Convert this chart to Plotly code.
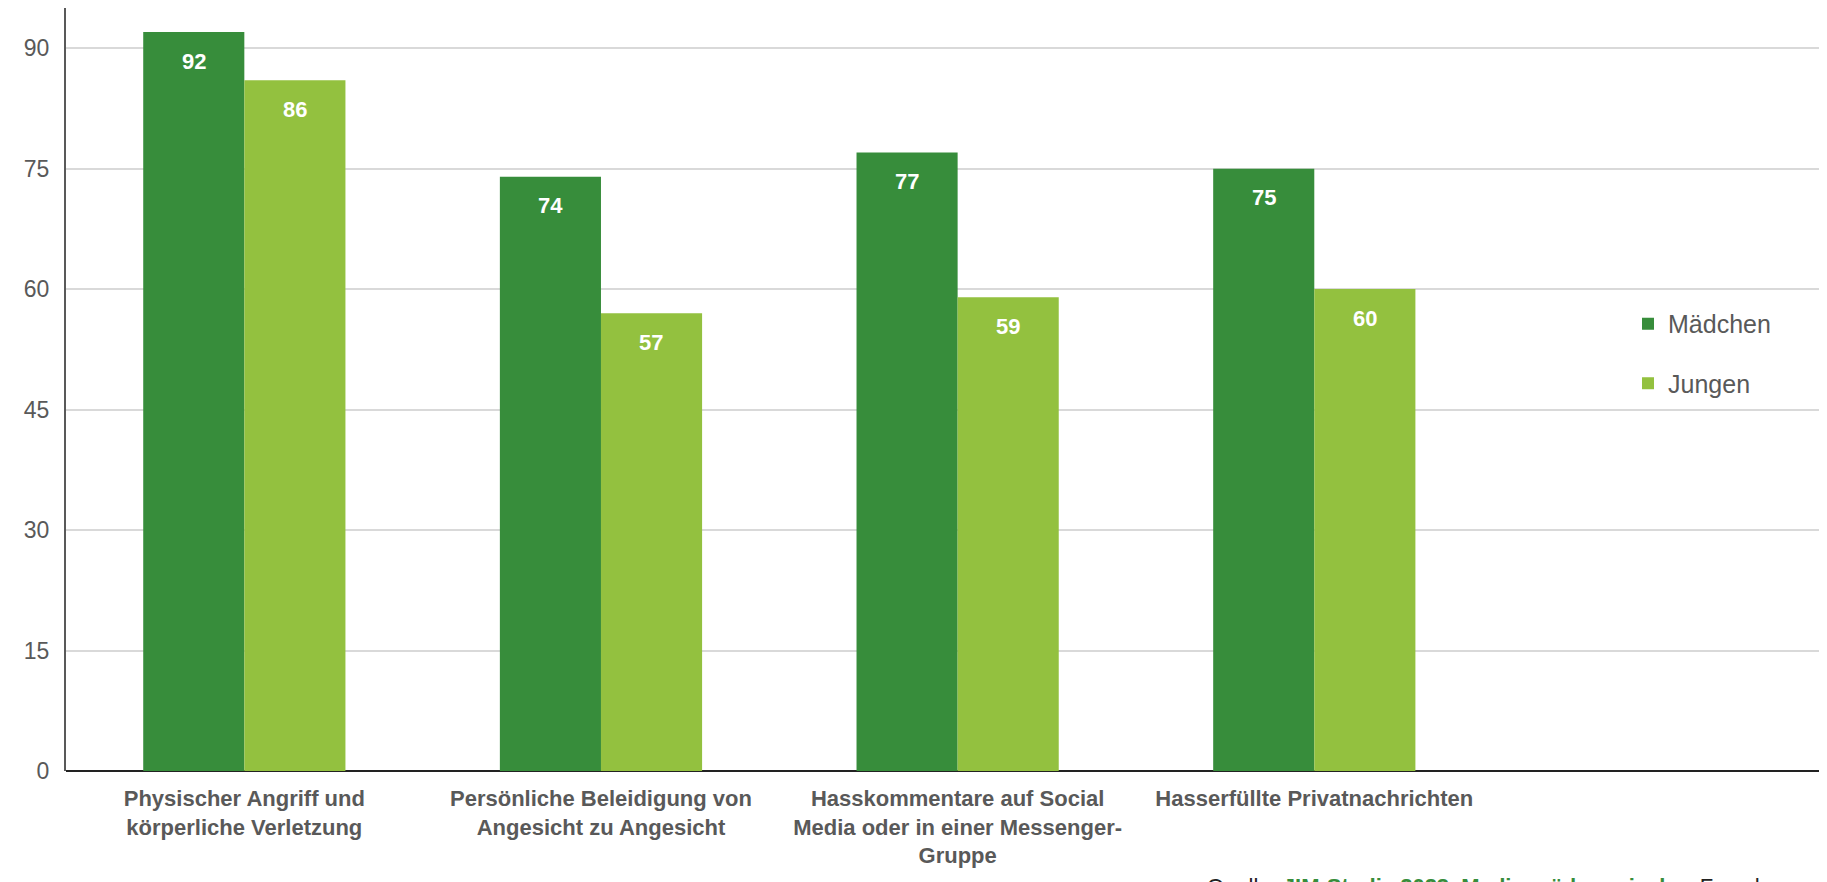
import plotly.graph_objects as go

categories = [
    "Physischer Angriff und<br>körperliche Verletzung",
    "Persönliche Beleidigung von<br>Angesicht zu Angesicht",
    "Hasskommentare auf Social<br>Media oder in einer Messenger-<br>Gruppe",
    "Hasserfüllte Privatnachrichten",
]
maedchen = [92, 74, 77, 75]
jungen = [86, 57, 59, 60]

dark_green = "#378D3B"
light_green = "#93C13F"
grey_text = "#595959"
font_family = "Liberation Sans Narrow, Liberation Sans, Arial, sans-serif"

fig = go.Figure()

fig.add_trace(go.Bar(
    x=categories, y=maedchen, name="Mädchen",
    marker=dict(color=dark_green, line=dict(width=0)),
    legendgroup="m", hoverinfo="x+y",
))
fig.add_trace(go.Bar(
    x=categories, y=jungen, name="Jungen",
    marker=dict(color=light_green, line=dict(width=0)),
    legendgroup="j", hoverinfo="x+y",
))

# value labels inside the bars, a bit below the top edge
bar_px = 101
for series, shift in [(maedchen, -bar_px / 2), (jungen, bar_px / 2)]:
    for cat, v in zip(categories, series):
        fig.add_annotation(
            x=cat, y=v, xref="x", yref="y",
            text=f"<b>{v}</b>", showarrow=False,
            xshift=shift, yshift=-29,
            font=dict(size=22, color="white", family=font_family),
        )

# source line (cut off at the bottom edge in the original)
fig.add_annotation(
    xref="paper", yref="paper", x=0.644, y=-0.133,
    xanchor="left", yanchor="top", showarrow=False,
    text="Quelle: <span style='color:#378D3B'><b>JIM-Studie 2023, Medienpädagogischer</b></span> Forschungsverbund Südwest",
    font=dict(size=22, color="#222222", family=font_family),
)

# the page body adds an 8px offset, margins below account for it
fig.update_layout(
    width=1827, height=882,
    barmode="group",
    bargap=0.433, bargroupgap=0,
    plot_bgcolor="white", paper_bgcolor="white",
    margin=dict(l=58, r=0, t=0, b=119, autoexpand=False),
    font=dict(family=font_family, color=grey_text),
    legend=dict(
        x=0.883, y=0.616, xanchor="left", yanchor="top",
        bgcolor="rgba(0,0,0,0)",
        font=dict(size=25, color=grey_text, family=font_family),
        traceorder="grouped", tracegroupgap=24,
        itemwidth=30,
    ),
    xaxis=dict(
        range=[-0.5, 4.46],
        automargin=False,
        showgrid=False,
        showline=False,
        zeroline=False,
        ticks="",
        ticklabelstandoff=12,
        tickfont=dict(size=22, color=grey_text, family=font_family, weight="bold"),
    ),
    yaxis=dict(
        range=[0, 95.0],
        automargin=False,
        tick0=0, dtick=15,
        showgrid=True, gridcolor="#D9D9D9", gridwidth=2,
        showline=True, linecolor="#595959", linewidth=2,
        zeroline=True, zerolinecolor="#222222", zerolinewidth=2,
        ticks="",
        ticklabelstandoff=10,
        tickfont=dict(size=23, color=grey_text, family=font_family),
    ),
)

fig.write_html("out.html")
